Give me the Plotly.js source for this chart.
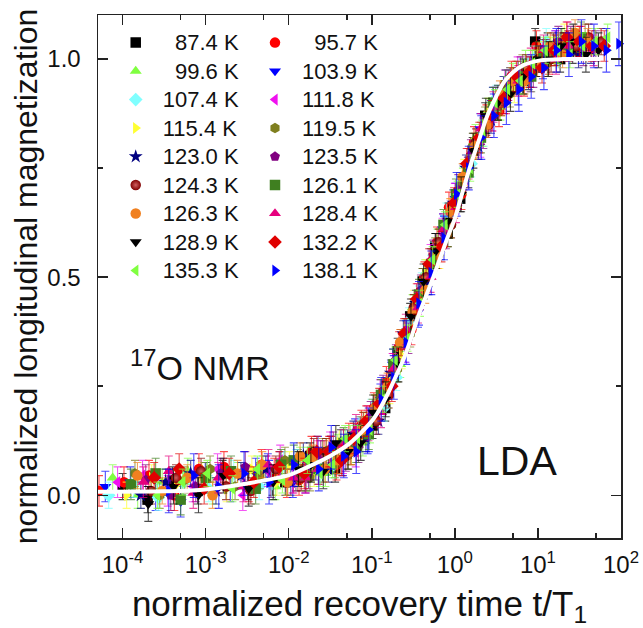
<!DOCTYPE html>
<html>
<head>
<meta charset="utf-8">
<script src="https://cdn.plot.ly/plotly-3.0.1.min.js"></script>
<style>html,body{margin:0;padding:0;background:#fff;}#chart{width:643px;height:628px;}</style>
</head>
<body>
<div id="chart"></div>
<script>
// ---- data: x = t/T1, y = normalized magnetization ----
const labels = ['87.4 K','95.7 K','99.6 K','103.9 K','107.4 K','111.8 K','115.4 K','119.5 K','123.0 K',
                '123.5 K','124.3 K','126.1 K','126.3 K','128.4 K','128.9 K','132.2 K','135.3 K','138.1 K'];

const x874 = [1.0e-4,2.0e-4,4.0e-4,8.0e-4,1.6e-3,3.2e-3,6.4e-3,9.1e-3,0.0128,0.0181,0.0256,0.0362,0.0512,0.0724,0.102,0.145,0.205,0.29,0.41,0.58,0.82,1.16,1.64,2.32,3.28,4.63,6.55,9.27,13.1,18.5,26.2];
const y874 = [0.02,-0.01,0.035,0.01,0.05,0.02,0.03,0.03,0.075,0.09,0.06,0.06,0.12,0.15,0.16,0.2,0.33,0.41,0.49,0.57,0.60,0.68,0.79,0.87,0.89,0.95,0.95,1.04,1.03,1.0,1.02];
const x957 = [5.2e-5,1.04e-4,2.08e-4,4.2e-4,8.3e-4,1.66e-3,3.3e-3,4.7e-3,6.7e-3,9.5e-3,0.0133,0.0188,0.0266,0.0376,0.053,0.075,0.106,0.15,0.213,0.30,0.43,0.61,0.85,1.2,1.7,2.4,3.4,4.8,6.8,9.6,13.6];
const y957 = [0.01,0.03,0.045,0.0,0.06,0.065,0.02,0.07,0.05,0.03,0.035,0.1,0.09,0.07,0.13,0.16,0.2,0.26,0.34,0.38,0.5,0.58,0.66,0.69,0.81,0.86,0.88,0.96,0.95,1.03,1.0];
const x996 = [7.6e-5,1.52e-4,3.0e-4,6.1e-4,1.22e-3,2.43e-3,4.9e-3,6.9e-3,9.7e-3,0.0137,0.0195,0.0276,0.039,0.055,0.078,0.11,0.156,0.22,0.31,0.44,0.62,0.88,1.25,1.77,2.5,3.54,5.0,7.1,10.0,14.1,19.9];
const y996 = [0.04,0.0,0.03,0.055,0.01,0.045,0.06,0.02,0.03,0.08,0.08,0.05,0.11,0.13,0.12,0.2,0.23,0.3,0.43,0.51,0.58,0.62,0.72,0.82,0.88,0.89,0.96,0.99,1.0,1.02,1.04];
const x1039 = [6.2e-5,1.24e-4,2.5e-4,5.0e-4,9.9e-4,1.98e-3,4.0e-3,5.6e-3,7.9e-3,0.0112,0.0159,0.0225,0.032,0.045,0.063,0.089,0.127,0.18,0.254,0.36,0.51,0.72,1.02,1.44,2.03,2.87,4.1,5.8,8.1,11.5,16.3];
const y1039 = [0.02,0.03,0.0,-0.015,0.04,0.02,0.05,0.06,0.065,0.03,0.04,0.1,0.1,0.08,0.14,0.13,0.22,0.3,0.34,0.42,0.53,0.61,0.68,0.74,0.84,0.9,0.94,0.93,0.97,0.99,1.03];
const x1074 = [6.8e-5,1.36e-4,2.7e-4,5.4e-4,1.09e-3,2.18e-3,4.4e-3,6.2e-3,8.7e-3,0.0123,0.0174,0.0246,0.035,0.049,0.07,0.099,0.139,0.197,0.28,0.40,0.56,0.79,1.11,1.57,2.23,3.15,4.5,6.3,8.9,12.6,17.8];
const y1074 = [0.0,0.025,-0.005,0.03,0.015,0.05,0.02,0.025,0.07,0.075,0.05,0.06,0.07,0.12,0.15,0.19,0.2,0.27,0.4,0.48,0.55,0.64,0.7,0.76,0.83,0.91,0.93,0.97,1.0,1.04,1.01];
const x1118 = [8.7e-5,1.74e-4,3.5e-4,7.0e-4,1.39e-3,2.8e-3,5.6e-3,7.9e-3,0.0111,0.0157,0.0223,0.0315,0.045,0.064,0.089,0.126,0.178,0.25,0.36,0.51,0.71,1.0,1.43,2.02,2.85,4.0,5.7,8.1,11.4,16.1,22.8];
const y1118 = [0.03,0.045,0.01,0.02,0.06,0.0,0.055,0.08,0.04,0.04,0.09,0.11,0.085,0.1,0.17,0.23,0.29,0.34,0.45,0.54,0.6,0.68,0.74,0.81,0.87,0.94,0.97,0.96,1.01,1.03,1.05];
const x1154 = [1.12e-4,2.24e-4,4.5e-4,9.0e-4,1.79e-3,3.6e-3,7.2e-3,0.0102,0.0143,0.0202,0.0287,0.0406,0.057,0.081,0.115,0.163,0.229,0.324,0.46,0.65,0.92,1.3,1.83,2.59,3.67,5.2,7.3,10.3,14.7,20.8,29.4];
const y1154 = [0.0,0.04,0.025,0.045,0.015,0.06,0.03,0.07,0.05,0.05,0.1,0.12,0.1,0.16,0.2,0.24,0.32,0.44,0.51,0.55,0.65,0.74,0.8,0.88,0.9,0.93,0.96,1.01,1.02,1.05,1.04];
const x1195 = [1.41e-4,2.8e-4,5.6e-4,1.13e-3,2.26e-3,4.5e-3,9.0e-3,0.0127,0.018,0.0255,0.036,0.051,0.072,0.102,0.144,0.204,0.29,0.41,0.58,0.82,1.16,1.64,2.31,3.27,4.6,6.5,9.2,13.0,18.5,26.2,37];
const y1195 = [0.05,0.0,0.035,0.06,0.02,0.045,0.08,0.04,0.04,0.1,0.07,0.09,0.14,0.19,0.24,0.29,0.37,0.49,0.56,0.6,0.71,0.8,0.86,0.89,0.92,0.98,0.99,0.99,1.03,1.04,1.05];
const x1230 = [1.66e-4,3.3e-4,6.6e-4,1.33e-3,2.66e-3,5.3e-3,0.0106,0.015,0.0212,0.03,0.0425,0.06,0.085,0.12,0.17,0.24,0.34,0.48,0.68,0.96,1.36,1.92,2.72,3.85,5.4,7.7,10.9,15.4,21.8,30.8,43.5];
const y1230 = [0.0,0.03,0.05,0.01,0.045,0.06,0.03,0.09,0.065,0.06,0.12,0.14,0.13,0.17,0.28,0.37,0.44,0.49,0.57,0.67,0.75,0.8,0.86,0.93,0.95,0.96,1.0,1.03,1.03,1.01,1.02];
const x1235 = [1.9e-4,3.8e-4,7.6e-4,1.52e-3,3.0e-3,6.1e-3,0.0122,0.0173,0.0243,0.0344,0.0486,0.069,0.097,0.137,0.195,0.276,0.39,0.55,0.78,1.1,1.56,2.2,3.1,4.4,6.2,8.8,12.5,17.6,24.9,35.2,49.8];
const y1235 = [0.035,0.0,0.02,0.05,0.065,0.03,0.045,0.05,0.09,0.11,0.09,0.11,0.18,0.24,0.31,0.36,0.47,0.55,0.6,0.7,0.78,0.83,0.9,0.94,0.97,0.97,1.01,1.04,1.04,1.02,1.03];
const x1243 = [2.2e-4,4.4e-4,8.8e-4,1.76e-3,3.5e-3,7.0e-3,0.0141,0.02,0.0282,0.04,0.056,0.079,0.113,0.16,0.225,0.32,0.45,0.64,0.9,1.27,1.8,2.55,3.6,5.1,7.2,10.2,14.4,20.4,28.8,40.7,57.7];
const y1243 = [0.01,0.04,0.055,0.02,0.01,0.06,0.04,0.1,0.1,0.08,0.1,0.16,0.17,0.23,0.35,0.43,0.5,0.58,0.62,0.73,0.81,0.85,0.9,0.95,0.98,1.0,1.0,1.03,1.03,1.05,1.04];
const x1261 = [1.26e-4,2.5e-4,5.0e-4,1.01e-3,2.02e-3,4.0e-3,8.1e-3,0.0115,0.0161,0.0228,0.0323,0.0457,0.065,0.092,0.129,0.182,0.26,0.37,0.52,0.73,1.03,1.46,2.06,2.91,4.1,5.8,8.3,11.7,16.5,23.3,33];
const y1261 = [0.025,0.05,-0.01,0.04,0.055,0.015,0.07,0.08,0.045,0.06,0.1,0.12,0.11,0.14,0.23,0.3,0.37,0.46,0.53,0.62,0.69,0.74,0.82,0.9,0.94,0.96,0.96,1.01,1.02,1.03,1.05];
const x1263 = [1.51e-4,3.0e-4,6.0e-4,1.21e-3,2.42e-3,4.8e-3,9.7e-3,0.0137,0.0193,0.0273,0.0387,0.0547,0.077,0.109,0.155,0.219,0.31,0.44,0.62,0.88,1.24,1.75,2.47,3.49,4.9,6.9,9.9,14.0,19.8,28.0,39.6];
const y1263 = [0.045,0.01,0.04,0.0,0.05,0.07,0.03,0.09,0.085,0.06,0.08,0.1,0.15,0.2,0.25,0.35,0.42,0.47,0.55,0.65,0.73,0.8,0.85,0.92,0.95,0.95,0.99,1.03,1.01,1.06,1.04];
const x1284 = [1.78e-4,3.6e-4,7.1e-4,1.42e-3,2.85e-3,5.7e-3,0.0114,0.0161,0.0228,0.0322,0.0456,0.0645,0.091,0.129,0.182,0.257,0.36,0.51,0.73,1.03,1.46,2.06,2.92,4.13,5.8,8.2,11.7,16.5,23.3,33,46.7];
const y1284 = [0.03,0.055,0.005,0.04,0.02,0.07,0.04,0.04,0.06,0.1,0.115,0.15,0.16,0.19,0.29,0.38,0.43,0.5,0.61,0.66,0.76,0.84,0.89,0.91,0.95,0.99,1.02,1.0,1.03,1.04,1.02];
const x1289 = [2.04e-4,4.1e-4,8.2e-4,1.63e-3,3.3e-3,6.5e-3,0.0131,0.0185,0.0261,0.0369,0.052,0.0735,0.104,0.147,0.209,0.296,0.42,0.59,0.84,1.19,1.67,2.36,3.3,4.67,6.7,9.5,13.4,19.0,26.7,37.8,53.5];
const y1289 = [-0.02,0.02,0.0,0.045,0.015,0.03,0.06,0.07,0.055,0.12,0.1,0.12,0.19,0.22,0.3,0.41,0.49,0.56,0.63,0.69,0.79,0.87,0.9,0.92,0.96,1.0,1.0,1.03,1.04,1.01,1.02];
const x1322 = [2.4e-4,4.8e-4,9.6e-4,1.92e-3,3.8e-3,7.7e-3,0.0154,0.0218,0.0307,0.0434,0.061,0.086,0.123,0.174,0.246,0.348,0.49,0.69,0.98,1.39,1.97,2.79,3.9,5.5,7.9,11.2,15.7,22.2,31.5,44.5,62.9];
const y1322 = [0.04,0.06,0.015,0.05,0.03,0.065,0.05,0.1,0.1,0.08,0.13,0.17,0.21,0.25,0.37,0.45,0.53,0.57,0.67,0.76,0.82,0.87,0.91,0.96,0.97,0.98,1.02,1.05,1.04,1.03,1.03];
const x1353 = [2.63e-4,5.3e-4,1.05e-3,2.1e-3,4.2e-3,8.4e-3,0.0168,0.0238,0.0337,0.0477,0.067,0.095,0.135,0.191,0.269,0.38,0.54,0.76,1.08,1.53,2.15,3.04,4.3,6.1,8.6,12.2,17.2,24.3,34.5,48.8,69];
const y1353 = [0.0,0.03,0.05,0.015,0.06,0.035,0.08,0.05,0.07,0.13,0.13,0.15,0.22,0.31,0.36,0.44,0.54,0.62,0.69,0.75,0.83,0.9,0.93,0.95,0.99,1.02,1.02,1.01,1.03,1.04,1.05];
const x1381 = [3.6e-4,7.2e-4,1.44e-3,2.9e-3,5.8e-3,0.0115,0.023,0.0325,0.046,0.065,0.092,0.13,0.184,0.26,0.37,0.52,0.74,1.05,1.47,2.08,2.95,4.17,5.9,8.3,11.8,16.7,23.6,33.4,47.2,66.7,94.4];
const y1381 = [0.01,0.045,0.02,0.05,0.03,0.07,0.06,0.11,0.09,0.1,0.15,0.22,0.27,0.35,0.44,0.51,0.59,0.69,0.75,0.82,0.87,0.9,0.93,0.96,0.98,1.02,1.01,1.04,1.03,1.02,1.035];

// error bar half-lengths per series
const errs = [0.03,0.035,0.03,0.035,0.03,0.035,0.03,0.03,0.03,0.035,0.03,0.035,0.03,0.035,0.04,0.035,0.03,0.05];

// fitted recovery curve (white line)
const fitX = [5.06e-5,3.16e-4,8.6e-4,3.16e-3,0.01,0.0138,0.0316,0.0551,0.1,0.1164,0.158,0.192,0.251,0.363,0.55,0.813,1.0,1.259,1.535,1.995,2.455,3.16,3.83,5.01,6.67,10.66,19.95,56.4];
const fitY = [0.008,0.009,0.012,0.027,0.046,0.057,0.09,0.12,0.17,0.188,0.235,0.27,0.32,0.41,0.50,0.59,0.635,0.70,0.755,0.82,0.87,0.915,0.945,0.97,0.986,0.997,1.0,1.0];

// axis ticks
const xTickVals = [1e-4,1e-3,1e-2,1e-1,1,10,100];
const xTickText = ['10<sup>-4</sup>','10<sup>-3</sup>','10<sup>-2</sup>','10<sup>-1</sup>','10<sup>0</sup>','10<sup>1</sup>','10<sup>2</sup>'];
const xMinorVals = [5e-4,5e-3,5e-2,0.5,5,50];
const yTickVals = [0,0.5,1.0];
const yTickText = ['0.0','0.5','1.0'];

// ---- styles ----
const xs = [x874,x957,x996,x1039,x1074,x1118,x1154,x1195,x1230,x1235,x1243,x1261,x1263,x1284,x1289,x1322,x1353,x1381];
const ys = [y874,y957,y996,y1039,y1074,y1118,y1154,y1195,y1230,y1235,y1243,y1261,y1263,y1284,y1289,y1322,y1353,y1381];
const colors = ['#000000','#FF0000','#80FF40','#0000FF','#80FFFF','#F010F0','#FFFF33','#7F7F1F','#000080',
                '#800080','#800000','#3F7F20','#F08020','#E6007E','#000000','#E00000','#80FF40','#0000FF'];
const symbols = ['square','circle','triangle-up','triangle-down','diamond','triangle-left','triangle-right','hexagon','star',
                 'pentagon','circle','square','circle','triangle-up','triangle-down','diamond','triangle-left','triangle-right'];
function rgba(hex,a){const n=parseInt(hex.slice(1),16);return 'rgba('+((n>>16)&255)+','+((n>>8)&255)+','+(n&255)+','+a+')';}
const FIGSP = '\u2007';

const traces = [];
for (let i = 0; i < labels.length; i++) {
  const marker = {symbol: symbols[i], color: colors[i], size: 10.5, line: {width: 0}};
  if (i === 10) marker.gradient = {type: 'radial', color: '#d06060'};
  traces.push({
    type: 'scatter', mode: 'markers', x: xs[i], y: ys[i],
    name: '<span style="font-size:22px">' + (labels[i].length < 7 ? FIGSP : '') + labels[i] + '</span>',
    legend: (i % 2 === 0) ? 'legend' : 'legend2',
    marker: marker,
    cliponaxis: i !== 17,
    error_y: {type: 'constant', value: errs[i], color: rgba(colors[i], 0.7), thickness: 1.1, width: 4}
  });
}
traces.push({type:'scatter', mode:'lines', x: fitX, y: fitY, showlegend:false, hoverinfo:'skip',
             line:{color:'#ffffff', width:4, shape:'spline', smoothing:0.8}});

const FONT = '"Liberation Sans", Arial, Helvetica, sans-serif';
const axisCommon = {showline:true, linecolor:'#222', linewidth:1.5, mirror:'ticks', ticks:'inside', ticklen:10,
                    tickwidth:1.5, tickcolor:'#222', showgrid:false, zeroline:false,
                    tickfont:{family:FONT, size:24, color:'#111'}};
const legendCommon = {y:0.984, xanchor:'left', yanchor:'top', bgcolor:'rgba(0,0,0,0)', borderwidth:0,
                      itemwidth:44, font:{family:FONT, size:19.6, color:'#111'}, tracegroupgap:0};
const layout = {
  width:643, height:628, margin:{l:98, r:22, t:15, b:90},
  paper_bgcolor:'#fff', plot_bgcolor:'#fff',
  font:{family:FONT, color:'#111'},
  xaxis: Object.assign({}, axisCommon, {type:'log', range:[Math.log10(5.06e-5), 2], tickvals:xTickVals, ticktext:xTickText,
    ticklabelstandoff:5,
    minor:{tickvals:xMinorVals, ticks:'inside', ticklen:5, tickwidth:1.5, tickcolor:'#222'},
    title:{text:'normalized recovery time t/T<sub>1</sub>', font:{family:FONT, size:35, color:'#111'}, standoff:18}}),
  yaxis: Object.assign({}, axisCommon, {range:[-0.098, 1.101], tickvals:yTickVals, ticktext:yTickText,
    ticklabelstandoff:11,
    minor:{dtick:0.25, ticks:'inside', ticklen:5, tickwidth:1.5, tickcolor:'#222'},
    title:{text:'normalized longitudinal magnetization', font:{family:FONT, size:32, color:'#111'}, standoff:0}}),
  showlegend:true,
  legend: Object.assign({}, legendCommon, {x:0.0205}),
  legend2: Object.assign({}, legendCommon, {x:0.2868}),
  annotations:[
    {text:'<sup>17</sup>O NMR', xref:'paper', yref:'paper', x:0.058, y:0.329, xanchor:'left', yanchor:'middle',
     showarrow:false, font:{family:FONT, size:34, color:'#111'}},
    {text:'LDA', xref:'paper', yref:'paper', x:0.801, y:0.147, xanchor:'center', yanchor:'middle',
     showarrow:false, font:{family:FONT, size:41, color:'#111'}}
  ]
};
Plotly.newPlot('chart', traces, layout, {displayModeBar:false, staticPlot:true});
</script>
</body>
</html>
